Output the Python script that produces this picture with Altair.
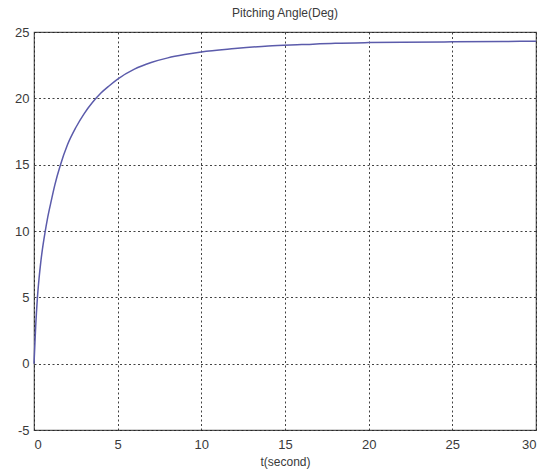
import altair as alt
import pandas as pd

t_values = [0, 0.1, 0.2, 0.3, 0.4, 0.5, 0.66, 0.8, 1.0, 1.25, 1.56, 2.0, 2.5, 3.0,
            3.5, 4.0, 4.5, 5.0, 6.0, 7.0, 8.0, 9.0, 10, 12, 14, 16, 18, 20, 22, 25, 28, 30]
angle_values = [0, 2.8, 4.9, 6.4, 7.6, 8.6, 9.9, 10.9, 12.1, 13.5, 14.9, 16.5, 17.8, 18.85,
                19.7, 20.4, 20.95, 21.45, 22.2, 22.7, 23.05, 23.3, 23.5, 23.75, 23.95, 24.05,
                24.15, 24.2, 24.23, 24.26, 24.29, 24.3]
x_ticks = [0, 5, 10, 15, 20, 25, 30]
y_ticks = [-5, 0, 5, 10, 15, 20, 25]

df = pd.DataFrame({"t": t_values, "angle": angle_values})

chart = alt.Chart(df).mark_line(
    color="#5b5bab", strokeWidth=1.5, interpolate="monotone"
).encode(
    x=alt.X("t:Q",
            scale=alt.Scale(domain=[0, 30], nice=False, zero=False),
            axis=alt.Axis(values=x_ticks, title="t(second)", labelExpr="'' + datum.value")),
    y=alt.Y("angle:Q",
            scale=alt.Scale(domain=[-5, 25], nice=False, zero=False),
            axis=alt.Axis(values=y_ticks, title=None, labelExpr="'' + datum.value")),
).properties(
    width=502,
    height=398,
    title=alt.TitleParams("Pitching Angle(Deg)", fontSize=12, font="Liberation Sans",
                          fontWeight="normal", color="#3a3a3a", offset=6),
    autosize=alt.AutoSizeParams(type="none"),
    padding={"left": 34, "top": 32, "right": 7, "bottom": 45},
).configure_view(
    stroke="#555555", strokeWidth=1.2
).configure_axis(
    grid=True,
    gridColor="#222222",
    gridDash=[2, 2.5],
    gridOpacity=0.85,
    gridWidth=1,
    domain=False,
    ticks=False,
    labelFont="Liberation Sans",
    labelFontSize=13,
    labelColor="#3a3a3a",
    titleFont="Liberation Sans",
    titleFontSize=12,
    titleFontWeight="normal",
    titleColor="#3a3a3a",
).configure_axisX(
    labelPadding=8,
    titlePadding=5,
).configure_axisY(
    labelPadding=5,
)

chart.save("out.html", embed_options={"renderer": "svg", "actions": False})
